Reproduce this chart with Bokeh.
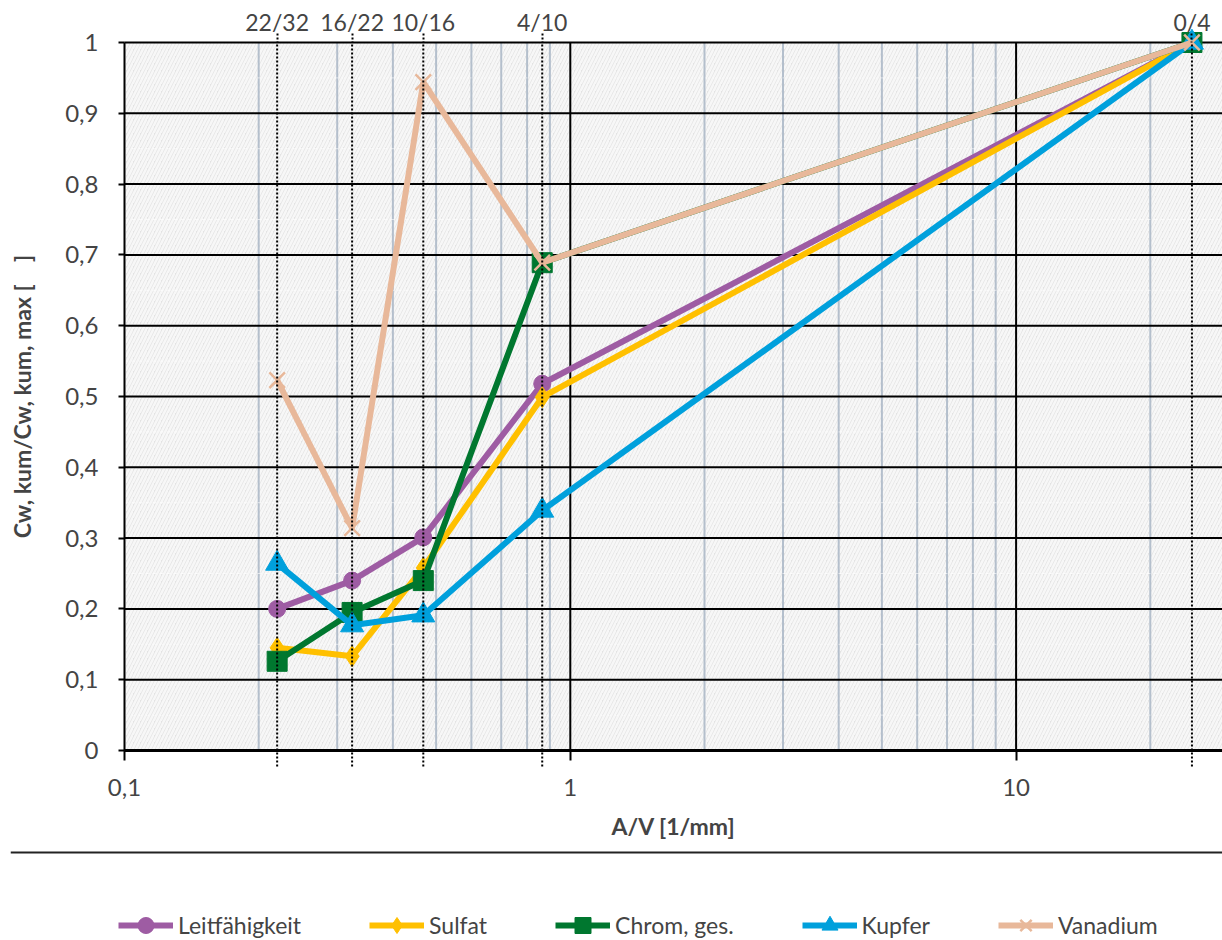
import numpy as np
from bokeh.plotting import figure
from bokeh.models import (Range1d, FixedTicker, CustomJSTickFormatter, LogAxis,
                          BoxAnnotation, Legend, LegendItem)
from bokeh.embed import file_html
from bokeh.resources import INLINE

# ---------------- data ----------------
fractions = ["22/32", "16/22", "10/16", "4/10", "0/4"]
av = [0.220, 0.324, 0.468, 0.865, 24.8]          # A/V [1/mm]
leitfaehigkeit = [0.200, 0.240, 0.301, 0.518, 1.0]
sulfat = [0.145, 0.133, 0.258, 0.499, 1.0]
chrom = [0.126, 0.195, 0.240, 0.689, 1.0]
kupfer = [0.264, 0.177, 0.191, 0.339, 1.0]
vanadium = [0.523, 0.314, 0.944, 0.689, 1.0]
series_names = ["Leitfähigkeit", "Sulfat", "Chrom, ges.", "Kupfer", "Vanadium"]

x_ticks = [0.1, 1, 10]
x_major_grid = [1, 10]
x_minor_grid = [0.2, 0.3, 0.4, 0.5, 0.6, 0.7, 0.8, 0.9, 2, 3, 4, 5, 6, 7, 8, 9, 20]
y_ticks = [0, 0.1, 0.2, 0.3, 0.4, 0.5, 0.6, 0.7, 0.8, 0.9, 1.0]
y_minor = [0.05, 0.15, 0.25, 0.35, 0.45, 0.55, 0.65, 0.75, 0.85, 0.95]

X_MIN, X_MAX = 0.1, 29.04      # visible data area of the axes
Y_MIN, Y_MAX = 0.0, 1.0

FONT = "Lato"

styles = [
    dict(color="#9E5CA3", marker="circle", size=17),
    dict(color="#FFC000", marker="diamond", size=21),
    dict(color="#00772F", marker="square", size=20),
    dict(color="#00A0DC", marker="triangle", size=23),
    dict(color="#E8B89A", marker="x", size=22),
]
values = [leitfaehigkeit, sulfat, chrom, kupfer, vanadium]

# ---------------- layout geometry (pixels) ----------------
PX_DECADE = 445.8              # pixels per decade on x
PX_UNIT = 708.0                # pixels per 1.0 on y
LEFT_PAD = 114                 # room left of x=0.1 inside the frame (tick labels, title)
BOTTOM_PAD = 190               # room below y=0 inside the frame (axis texts, legend)
TOP_PAD = 42                   # room above y=1 inside the frame (fraction labels)
x_lo = X_MIN / 10 ** (LEFT_PAD / PX_DECADE)
y_lo = Y_MIN - BOTTOM_PAD / PX_UNIT
y_hi = Y_MAX + TOP_PAD / PX_UNIT

comma_fmt = CustomJSTickFormatter(code="""
    var s = (Math.round(tick*10)/10).toString();
    return s.replace('.', ',');
""")

p = figure(x_axis_type="log", x_range=Range1d(x_lo, X_MAX), y_range=Range1d(y_lo, y_hi),
           frame_width=1212, frame_height=940,
           min_border_left=10, min_border_right=0, min_border_top=0, min_border_bottom=0,
           toolbar_location=None, output_backend="svg",
           background_fill_color="white", border_fill_color="white",
           outline_line_color=None)
p.grid.visible = False

# hatched plot background
p.add_layout(BoxAnnotation(level="image", left=X_MIN, bottom=Y_MIN, top=Y_MAX,
                           fill_color="#e3e3e3", fill_alpha=1.0,
                           hatch_pattern="/", hatch_color="#f7f7f7", hatch_scale=7,
                           hatch_weight=2.5, line_color=None))

# grid lines
n_vmin = len(x_minor_grid)
p.segment(x0=x_minor_grid, y0=[Y_MIN] * n_vmin, x1=x_minor_grid, y1=[Y_MAX] * n_vmin,
          line_color="#b4bfcc", line_width=2)
n_hmin = len(y_minor)
p.segment(x0=[X_MIN] * n_hmin, y0=y_minor, x1=[X_MAX] * n_hmin, y1=y_minor,
          line_color="white", line_alpha=0.6, line_width=1, line_dash="4 3")
n_vmaj = len(x_major_grid)
p.segment(x0=x_major_grid, y0=[Y_MIN] * n_vmaj, x1=x_major_grid, y1=[Y_MAX] * n_vmaj,
          line_color="black", line_width=2)
n_hmaj = len(y_ticks)
p.segment(x0=[X_MIN] * n_hmaj, y0=y_ticks, x1=[X_MAX] * n_hmaj, y1=y_ticks,
          line_color="black", line_width=2)

# bottom axis, pinned at y = 0
xa = p.xaxis[0]
xa.fixed_location = Y_MIN
xa.bounds = (X_MIN, X_MAX)
xa.ticker = FixedTicker(ticks=x_ticks)
xa.formatter = comma_fmt
xa.axis_line_width = 3
xa.major_tick_out = 10
xa.major_tick_in = 0
xa.major_tick_line_width = 2
xa.minor_tick_line_color = None
xa.major_label_text_font = FONT
xa.major_label_text_font_size = "24px"
xa.major_label_standoff = 18
xa.axis_label = "A/V [1/mm]"
xa.axis_label_text_font = FONT
xa.axis_label_text_font_style = "bold"
xa.axis_label_text_font_size = "23px"
xa.axis_label_standoff = 13

# left axis, pinned at x = 0.1
ya = p.yaxis[0]
ya.fixed_location = X_MIN
ya.bounds = (Y_MIN, Y_MAX)
ya.ticker = FixedTicker(ticks=y_ticks)
ya.formatter = comma_fmt
ya.axis_line_width = 2
ya.major_tick_out = 6
ya.major_tick_in = 0
ya.major_tick_line_width = 2
ya.minor_tick_line_color = None
ya.major_label_text_font = FONT
ya.major_label_text_font_size = "24px"
ya.major_label_standoff = 20
ya.axis_label = "Cw, kum/Cw, kum, max [\u00a0\u00a0\u00a0\u00a0]"
ya.axis_label_text_font = FONT
ya.axis_label_text_font_style = "bold"
ya.axis_label_text_font_size = "23px"
ya.axis_label_standoff = 26

# top axis with grain fractions, pinned at y = 1
top = LogAxis(ticker=FixedTicker(ticks=av), fixed_location=Y_MAX,
              formatter=CustomJSTickFormatter(args=dict(labels=fractions), code="return labels[index];"),
              axis_line_color=None, major_tick_out=9, major_tick_in=0,
              major_tick_line_dash="2 2", major_tick_line_width=2,
              minor_tick_line_color=None, major_label_standoff=-2,
              major_label_text_font=FONT, major_label_text_font_size="23px")
p.add_layout(top, "above")

# data series
items = []
for name, ys, st in zip(series_names, values, styles):
    rl = p.line(av, ys, line_color=st["color"], line_width=6)
    if st["marker"] == "x":
        rm = p.scatter(av, ys, marker="x", size=st["size"], line_color=st["color"], line_width=2.5)
    else:
        rm = p.scatter(av, ys, marker=st["marker"], size=st["size"], fill_color=st["color"],
                       line_color=st["color"])
    items.append(LegendItem(label=name, renderers=[rl, rm]))

# dotted fraction markers (run a little below the x axis)
n_av = len(av)
p.segment(x0=av, y0=[Y_MIN - 16 / PX_UNIT] * n_av, x1=av, y1=[Y_MAX] * n_av,
          line_color="black", line_width=2, line_dash="2 2")

# separator line between chart and legend
p.add_layout(BoxAnnotation(bottom=Y_MIN - 103 / PX_UNIT, top=Y_MIN - 101 / PX_UNIT,
                           fill_color="#222222", fill_alpha=1.0, line_color=None))

legend = Legend(items=items, orientation="horizontal", location=(108, -5),
                glyph_width=55, glyph_height=40, label_standoff=5, spacing=68,
                padding=0, margin=0, border_line_color=None, background_fill_alpha=0,
                label_text_font=FONT, label_text_font_size="23px")
p.add_layout(legend)

open("out.html", "w").write(file_html(p, INLINE))
